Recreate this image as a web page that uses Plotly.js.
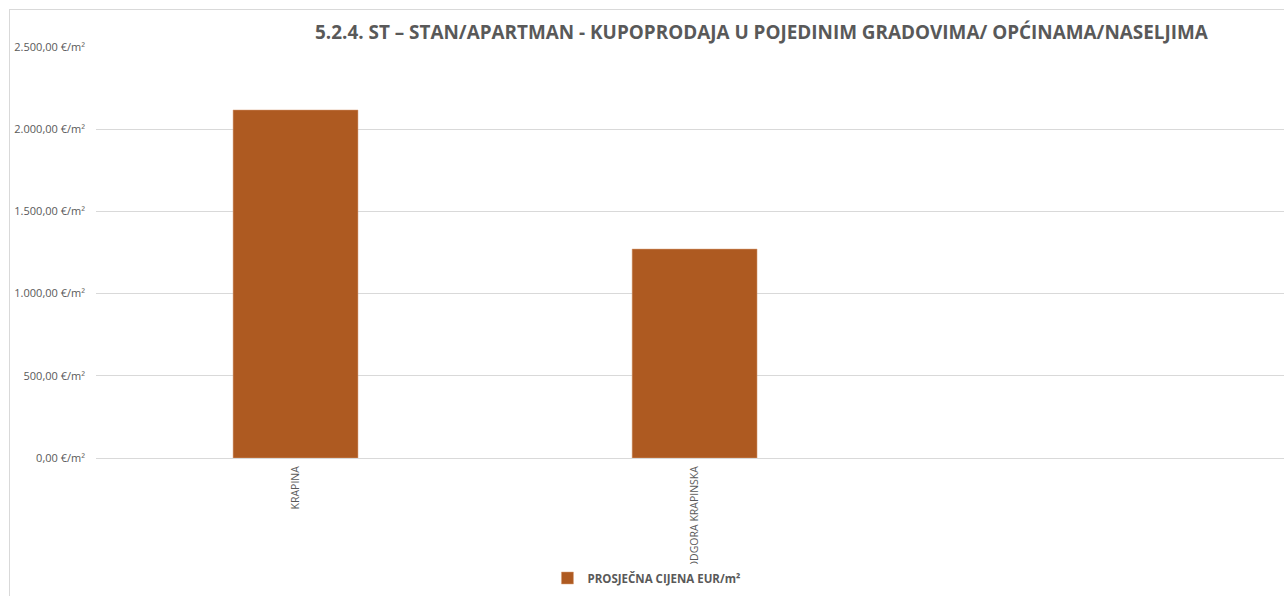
<!DOCTYPE html>
<html>
<head>
<meta charset="utf-8">
<script src="https://cdn.plot.ly/plotly-3.0.1.min.js"></script>
<style>
  body { margin: 0; background: #fff; }
  #frame { position: absolute; left: 9px; top: 9px; width: 1300px; height: 620px; border: 1px solid #d9d9d9; pointer-events: none; }
  #plot1 { position: absolute; left: 0; top: 0; width: 1284px; height: 596px; }
</style>
</head>
<body>
<div id="plot1"></div>
<div id="frame"></div>
<script>
// gradovi / općine
let places = ["KRAPINA", "PODGORA KRAPINSKA"];

// prosječna cijena EUR/m2
let avgPrice = [2117, 1271];

// y axis ticks
let yTicks = [0, 500, 1000, 1500, 2000, 2500];
let yTickText = ["0,00 €/m²", "500,00 €/m²", "1.000,00 €/m²", "1.500,00 €/m²", "2.000,00 €/m²", "2.500,00 €/m²"];

let trace1 = {
    x: places,
    y: avgPrice,
    type: "bar",
    name: "PROSJEČNA CIJENA EUR/m²",
    width: 0.313,
    marker: { color: "#ae5a21", line: { color: "#d9a07a", width: 0.5 } },
    hoverinfo: "none"
};

var data = [trace1];

var layout = {
    width: 1284,
    height: 596,
    margin: { l: 96, r: 0, t: 47, b: 138 },
    paper_bgcolor: "#ffffff",
    plot_bgcolor: "#ffffff",
    font: { family: "Open Sans, sans-serif", color: "#595959" },
    title: {
        text: "<b>5.2.4. ST – STAN/APARTMAN - KUPOPRODAJA U POJEDINIM GRADOVIMA/ OPĆINAMA/NASELJIMA</b>",
        font: { family: "Open Sans, sans-serif", size: 18.9, color: "#595959" },
        x: 0.593, xanchor: "center",
        y: 0.945, yanchor: "middle", yref: "container"
    },
    xaxis: {
        type: "category",
        range: [-0.5, 2.477],
        tickangle: -90,
        tickfont: { size: 10.5, color: "#595959" },
        showgrid: false,
        showline: false,
        zeroline: false,
        ticks: "",
        ticklabelstandoff: 5,
        automargin: false
    },
    yaxis: {
        range: [0, 2500],
        tickvals: yTicks,
        ticktext: yTickText,
        tickfont: { size: 11, color: "#595959" },
        gridcolor: "#d9d9d9",
        zerolinecolor: "#d9d9d9",
        showline: false,
        ticks: "",
        ticklabelstandoff: 10,
        automargin: false
    },
    showlegend: true,
    legend: {
        orientation: "h",
        x: 0.38, xanchor: "left",
        y: -0.292, yanchor: "middle",
        font: { size: 11.5, color: "#595959", weight: "bold" },
        itemwidth: 30
    }
};

Plotly.newPlot('plot1', data, layout, { displayModeBar: false, staticPlot: true });
</script>
</body>
</html>
